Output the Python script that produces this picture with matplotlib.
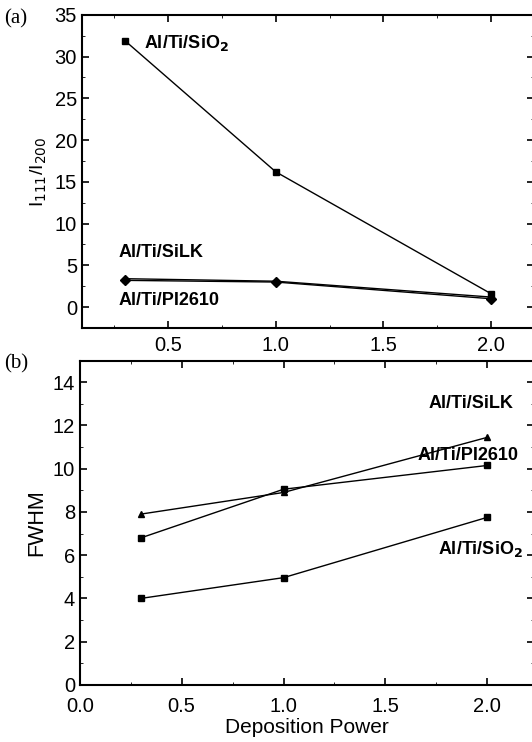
import matplotlib.pyplot as plt
from matplotlib.ticker import MultipleLocator

plt.rcParams['font.family'] = ['Liberation Sans', 'DejaVu Sans']

# deposition power
power = [0.3, 1.0, 2.0]

# (a) I111/I200 ratio
ratio_sio2 = [31.9, 16.2, 1.6]
ratio_silk = [3.4, 3.1, 1.2]
ratio_pi = [3.2, 3.0, 1.0]

# (b) FWHM
fwhm_silk = [7.9, 8.9, 11.45]
fwhm_pi = [6.8, 9.05, 10.15]
fwhm_sio2 = [4.0, 4.96, 7.75]

fig = plt.figure(figsize=(5.32, 7.42), dpi=100)
ax1 = fig.add_axes([0.154, 0.558, 0.85, 0.422])
ax2 = fig.add_axes([0.150, 0.077, 0.854, 0.437])

kw = dict(color="black", lw=1.0, ms=5)
ax1.plot(power, ratio_sio2, "s-", **kw)
ax1.plot(power, ratio_silk, "^-", **kw)
ax1.plot(power, ratio_pi, "D-", **kw)

ax2.plot(power, fwhm_silk, "^-", **kw)
ax2.plot(power, fwhm_pi, "s-", **kw)
ax2.plot(power, fwhm_sio2, "s-", **kw)

bold = dict(fontsize=13, fontweight="bold")
ax1.text(0.39, 31.6, "Al/Ti/SiO$_\\mathbf{2}$", va="center", **bold)
ax1.text(0.27, 6.5, "Al/Ti/SiLK", va="center", **bold)
ax1.text(0.27, 0.8, "Al/Ti/PI2610", va="center", **bold)

ax2.text(1.71, 13.0, "Al/Ti/SiLK", va="center", **bold)
ax2.text(1.66, 10.6, "Al/Ti/PI2610", va="center", **bold)
ax2.text(1.76, 6.3, "Al/Ti/SiO$_\\mathbf{2}$", va="center", **bold)

ax1.set_xlim(0.1, 2.2)
ax1.set_ylim(-2.5, 35)
ax1.xaxis.set_major_locator(MultipleLocator(0.5))
ax1.xaxis.set_minor_locator(MultipleLocator(0.25))
ax1.yaxis.set_major_locator(MultipleLocator(5))
ax1.yaxis.set_minor_locator(MultipleLocator(2.5))
ax1.set_ylabel("I$_{111}$/I$_{200}$", fontsize=14)

ax2.set_xlim(0, 2.23)
ax2.set_ylim(0, 15)
ax2.xaxis.set_major_locator(MultipleLocator(0.5))
ax2.xaxis.set_minor_locator(MultipleLocator(0.25))
ax2.yaxis.set_major_locator(MultipleLocator(2))
ax2.yaxis.set_minor_locator(MultipleLocator(1))
ax2.set_ylabel("FWHM", fontsize=15.5)

for ax in (ax1, ax2):
    ax.tick_params(which="both", direction="in", top=True, right=True, labelsize=14.5)
    ax.tick_params(which="major", length=5, width=1.2)
    ax.tick_params(which="minor", length=2.5)
    ax.tick_params(axis="x", pad=6)
    ax.xaxis.set_major_formatter(plt.FormatStrFormatter("%.1f"))
    for s in ax.spines.values():
        s.set_linewidth(1.5)

ax2.tick_params(axis="x", pad=9)
ax2.set_xlabel("Deposition Power", fontsize=15, labelpad=1)

fig.text(0.008, 0.968, "(a)", family="Liberation Serif", fontsize=15)
fig.text(0.008, 0.503, "(b)", family="Liberation Serif", fontsize=15)

fig.savefig("out.png", dpi=100)
